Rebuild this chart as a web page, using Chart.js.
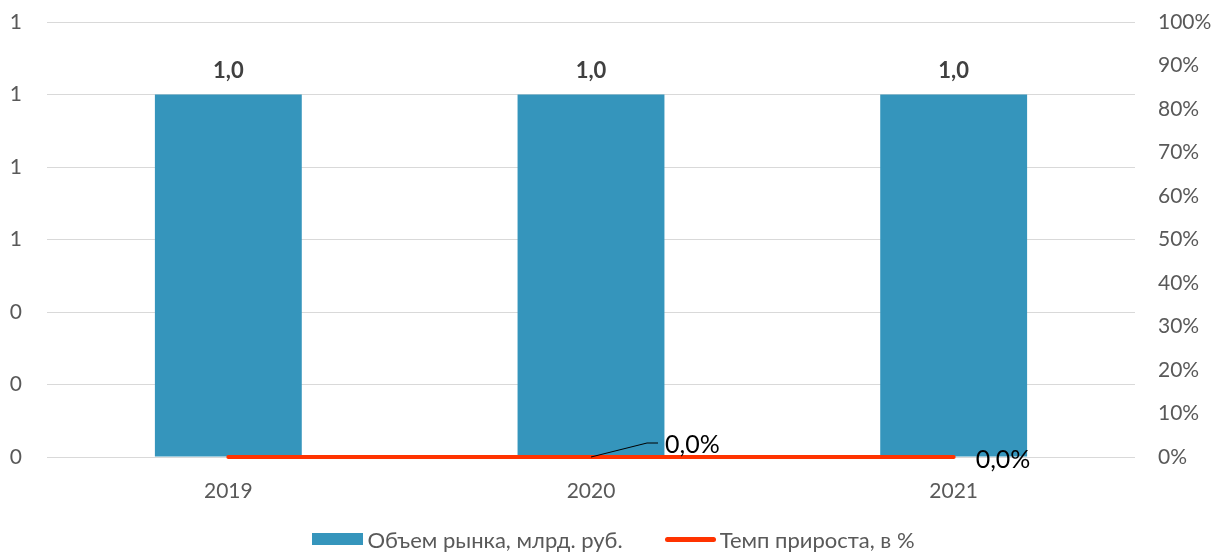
<!DOCTYPE html>
<html>
<head>
<meta charset="utf-8">
<script src="https://cdn.jsdelivr.net/npm/chart.js@4"></script>
<style>
  html, body { margin: 0; padding: 0; background: #fff; }
  #wrap { position: relative; width: 1227px; height: 558px; }
  #legend {
    position: absolute; left: 0; right: 0; top: 526px; height: 26px;
    display: flex; justify-content: center; align-items: center;
    font-family: Lato, "Open Sans", sans-serif; font-size: 22px; color: #595959;
  }
  .item { display: flex; align-items: center; margin: 0 21px; }
  .swatch { display: inline-block; width: 51px; margin-right: 4px; }
</style>
</head>
<body>
<div id="wrap"><canvas id="myChart"></canvas><div id="legend"></div></div>
<script>
const years = ["2019", "2020", "2021"];
const volume = [1.0, 1.0, 1.0]; // Объем рынка, млрд. руб.
const growth = [0, 0, 0]; // Темп прироста, доля
const growthLabelYears = ["2020", "2021"]; // where Excel shows the % labels

const FONT = "Lato, 'Open Sans', sans-serif";

// draws the value labels (no datalabels plugin available offline)
const valueLabels = {
  id: "valueLabels",
  afterDatasetsDraw(chart) {
    const ctx = chart.ctx;
    ctx.save();
    // bar labels
    const bars = chart.getDatasetMeta(0).data;
    ctx.font = "bold 22px " + FONT;
    ctx.fillStyle = "#404040";
    ctx.textAlign = "center";
    ctx.textBaseline = "middle";
    bars.forEach((b, i) => {
      ctx.fillText(volume[i].toFixed(1).replace(".", ","), b.x, b.y - 24);
    });
    // line labels
    const pts = chart.getDatasetMeta(1).data;
    ctx.font = "25px " + FONT;
    ctx.fillStyle = "#000";
    ctx.textAlign = "left";
    pts.forEach((p, i) => {
      if (!growthLabelYears.includes(years[i])) return;
      const txt = (growth[i] * 100).toFixed(1).replace(".", ",") + "%";
      if (i === 1) {
        ctx.strokeStyle = "#000";
        ctx.lineWidth = 1;
        ctx.beginPath();
        ctx.moveTo(p.x, p.y);
        ctx.lineTo(p.x + 56, p.y - 14);
        ctx.lineTo(p.x + 67, p.y - 14);
        ctx.stroke();
        ctx.fillText(txt, p.x + 74, p.y - 12);
      } else {
        ctx.fillText(txt, p.x + 22, p.y + 3);
      }
    });
    ctx.restore();
  },
};

// keep the plot area where Excel put it, not where the label heights push it
function fixWidth(w) {
  return (s) => {
    s.width = w;
    s.paddingTop = 0;
    s.paddingBottom = 0;
  };
}

const ctx = document.getElementById("myChart").getContext("2d");

const chart = new Chart(ctx, {
  data: {
    labels: years,
    datasets: [
      {
        type: "bar",
        label: "Объем рынка, млрд. руб.",
        data: volume,
        backgroundColor: "#3595bc",
        borderWidth: 0,
        categoryPercentage: 1,
        barPercentage: 0.405,
        yAxisID: "y",
        order: 2,
      },
      {
        type: "line",
        label: "Темп прироста, в %",
        data: growth,
        borderColor: "#ff3300",
        backgroundColor: "#ff3300",
        borderWidth: 4,
        borderCapStyle: "round",
        pointRadius: 0,
        clip: false,
        yAxisID: "y1",
        order: 1,
      },
    ],
  },
  options: {
    responsive: true,
    maintainAspectRatio: false,
    animation: false,
    layout: { padding: { top: 22, bottom: 0 } },
    scales: {
      x: {
        grid: { display: false, drawTicks: false },
        border: { display: false },
        ticks: { color: "#595959", font: { family: FONT, size: 21 }, padding: 22 },
        afterFit: (s) => { s.height = 101; },
      },
      y: {
        position: "left",
        min: 0,
        max: 1.2,
        ticks: {
          stepSize: 0.2,
          color: "#595959",
          font: { family: FONT, size: 21 },
          padding: 25,
          callback: (v) => Math.round(v).toString(),
        },
        grid: { color: "#d9d9d9", drawTicks: false },
        border: { display: false },
        afterFit: fixWidth(47),
      },
      y1: {
        position: "right",
        min: 0,
        max: 1,
        ticks: {
          stepSize: 0.1,
          color: "#595959",
          font: { family: FONT, size: 21 },
          padding: 23,
          callback: (v) => Math.round(v * 100) + "%",
        },
        grid: { display: false, drawTicks: false },
        border: { display: false },
        afterFit: fixWidth(92),
      },
    },
    plugins: {
      legend: { display: false },
      tooltip: { enabled: false },
    },
  },
  plugins: [valueLabels],
});

// legend as html, built from the datasets
const legendEl = document.getElementById("legend");
chart.data.datasets.forEach((ds) => {
  const item = document.createElement("div");
  item.className = "item";
  const sw = document.createElement("span");
  sw.className = "swatch";
  if (ds.type === "bar") {
    sw.style.height = "12px";
    sw.style.background = ds.backgroundColor;
  } else {
    sw.style.height = "5px";
    sw.style.borderRadius = "3px";
    sw.style.background = ds.borderColor;
  }
  item.appendChild(sw);
  item.appendChild(document.createTextNode(ds.label));
  legendEl.appendChild(item);
});
</script>
</body>
</html>
